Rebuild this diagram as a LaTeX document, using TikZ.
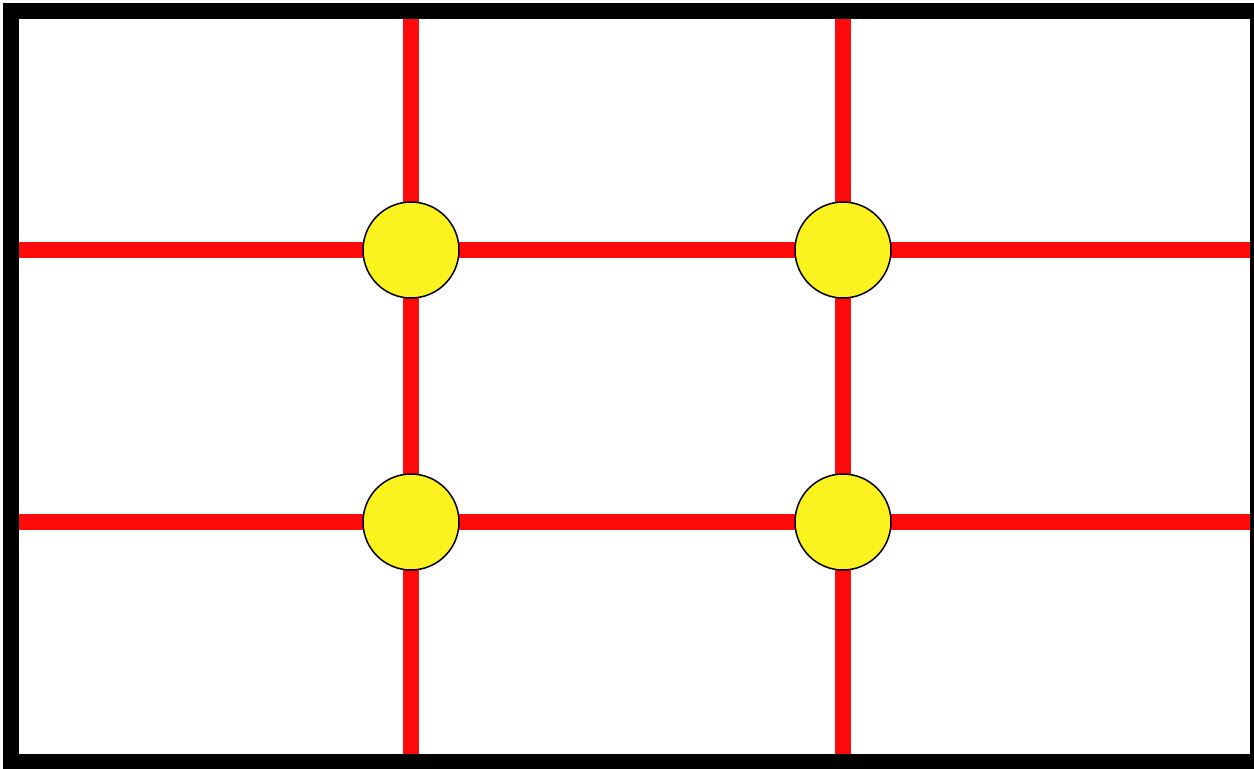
\documentclass[tikz,border=0pt]{standalone}
\definecolor{gridred}{HTML}{FF0A0A}
\definecolor{dotyellow}{HTML}{FBF31F}
\begin{document}
\begin{tikzpicture}[x=1pt,y=-1pt,
  gridline/.style={draw=gridred,line width=16pt},
  dot/.style={circle,draw=black,line width=1.5pt,fill=dotyellow,minimum size=96pt,inner sep=0pt},
  frame/.style={draw=black,line width=16pt}]
\useasboundingbox (0,0) rectangle (1254,769);
% grid coordinates
\coordinate (L1) at (11,250);
\coordinate (R1) at (1258,250);
\coordinate (L2) at (11,522);
\coordinate (R2) at (1258,522);
\coordinate (T1) at (411,11);
\coordinate (B1) at (411,762);
\coordinate (T2) at (843,11);
\coordinate (B2) at (843,762);
\draw[gridline] (L1) -- (R1);
\draw[gridline] (L2) -- (R2);
\draw[gridline] (T1) -- (B1);
\draw[gridline] (T2) -- (B2);
\draw[frame] (11,11) rectangle (1258,762);
\node[dot] (a) at (411,250) {};
\node[dot] (b) at (843,250) {};
\node[dot] (c) at (411,522) {};
\node[dot] (d) at (843,522) {};
\end{tikzpicture}
\end{document}
